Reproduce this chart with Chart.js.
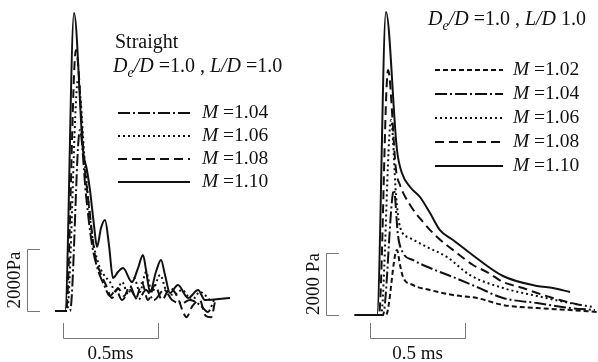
<!DOCTYPE html>
<html>
<head>
<meta charset="utf-8">
<script src="https://cdn.jsdelivr.net/npm/chart.js@4/dist/chart.umd.min.js"></script>
<style>
  body { margin: 0; background: #fff; }
  #wrap { position: relative; width: 598px; height: 362px; }
  canvas { position: absolute; top: 0; }
  #left { left: 0; }
  #right { left: 300px; }
</style>
</head>
<body>
<div id="wrap">
  <canvas id="left" width="300" height="362"></canvas>
  <canvas id="right" width="298" height="362"></canvas>
</div>
<script>
// time in ms, pressure in Pa
var straightMach = ['1.04', '1.06', '1.08', '1.10'];
var flangedMach  = ['1.02', '1.04', '1.06', '1.08', '1.10'];

// left panel: Straight, De/D = 1.0, L/D = 1.0
var straight104 = [[-0.042,0],[0.037,0],[0.089,5839],[0.121,3742],[0.153,2129],[0.184,1323],[0.216,839],[0.247,484],[0.279,677],[0.311,355],[0.353,677],[0.395,355],[0.437,677],[0.479,355],[0.532,677],[0.574,355],[0.626,258],[0.668,355],[0.721,194],[0.763,-32],[0.795,355]];
var straight106 = [[-0.042,0],[0.021,0],[0.079,7452],[0.116,4710],[0.153,2452],[0.184,1581],[0.216,1161],[0.247,935],[0.279,613],[0.311,935],[0.342,548],[0.374,1065],[0.405,613],[0.437,1258],[0.468,613],[0.511,1161],[0.542,677],[0.584,516],[0.626,677],[0.679,355],[0.721,613],[0.774,355]];
var straight108 = [[-0.042,0],[0.016,0],[0.068,8420],[0.111,4871],[0.142,3097],[0.168,1806],[0.195,1258],[0.226,839],[0.258,419],[0.289,742],[0.321,484],[0.353,806],[0.384,419],[0.416,903],[0.447,355],[0.484,839],[0.521,355],[0.563,742],[0.605,419],[0.63,0],[0.65,-200],[0.68,150],[0.72,350],[0.75,-150],[0.78,-200],[0.80,300]];
var straight110 = [[-0.042,0],[0.011,0],[0.058,9613],[0.105,5194],[0.126,4549],[0.142,3903],[0.163,2774],[0.179,2065],[0.2,2677],[0.221,2936],[0.242,2129],[0.263,1065],[0.289,1258],[0.316,1387],[0.363,935],[0.395,1387],[0.421,1806],[0.437,1323],[0.458,613],[0.489,1258],[0.516,1645],[0.537,1161],[0.563,581],[0.605,839],[0.658,419],[0.711,677],[0.747,355],[0.879,419]];

// right panel: De/D = 1.0, L/D 1.0
var flanged102 = [[-0.08,0],[0.084,0],[0.142,2097],[0.158,1613],[0.174,1226],[0.226,968],[0.316,806],[0.437,645],[0.563,548],[0.7,323],[0.879,226],[1.053,161],[1.195,97]];
var flanged104 = [[-0.08,0],[0.068,0],[0.126,4032],[0.147,2581],[0.174,2000],[0.226,1774],[0.316,1516],[0.437,1226],[0.563,903],[0.7,548],[0.879,387],[1.053,226],[1.184,161]];
var flanged106 = [[-0.08,0],[0.058,0],[0.111,6290],[0.137,3871],[0.158,2839],[0.211,2484],[0.3,2194],[0.405,1871],[0.526,1290],[0.7,871],[0.879,613],[1.053,387],[1.174,258]];
var flanged108 = [[-0.08,0],[0.047,0],[0.095,7900],[0.137,4678],[0.158,4194],[0.211,3549],[0.279,3000],[0.353,2516],[0.458,2000],[0.542,1613],[0.616,1387],[0.7,1065],[0.805,871],[0.911,645],[1.0,484],[1.105,323]];
var flanged110 = [[-0.08,0],[0.037,0],[0.084,9775],[0.142,5323],[0.168,4581],[0.211,4129],[0.263,3807],[0.316,3290],[0.368,2742],[0.437,2420],[0.526,2000],[0.7,1258],[0.879,936],[0.963,871],[1.053,742]];

var DASH = {
  '1.02': [5, 3],
  '1.04': [12, 3, 2, 3],
  '1.06': [2, 3],
  '1.08': [9, 5],
  '1.10': []
};
var SERIF = '"Liberation Serif", "DejaVu Serif", serif';

function series(points, mach) {
  return {
    data: points.map(function(p) { return { x: p[0], y: p[1] }; }),
    borderColor: '#111',
    borderWidth: 2,
    borderDash: DASH[mach],
    pointRadius: 0,
    fill: false,
    cubicInterpolationMode: 'monotone'
  };
}

// draws text parts: [text, italic, subscript]
function drawRich(ctx, x, y, parts, size) {
  ctx.textBaseline = 'middle';
  ctx.textAlign = 'left';
  parts.forEach(function(p) {
    var s = p[2] ? size * 0.7 : size;
    ctx.font = (p[1] ? 'italic ' : '') + s + 'px ' + SERIF;
    ctx.fillText(p[0], x, y + (p[2] ? size * 0.3 : 0));
    x += ctx.measureText(p[0]).width;
  });
}

var decorPlugin = {
  id: 'decor',
  afterDraw: function(chart, args, o) {
    var ctx = chart.ctx, xs = chart.scales.x, ys = chart.scales.y;
    ctx.save();
    ctx.fillStyle = '#111';

    // titles
    o.titles.forEach(function(t) { drawRich(ctx, t.x, t.y, t.parts, 20); });

    // legend
    o.legend.forEach(function(m, i) {
      var y = o.legendY + i * o.legendGap;
      ctx.strokeStyle = '#111';
      ctx.lineWidth = 2;
      ctx.setLineDash(DASH[m]);
      ctx.beginPath();
      ctx.moveTo(o.legendX1, y);
      ctx.lineTo(o.legendX2, y);
      ctx.stroke();
      ctx.setLineDash([]);
      drawRich(ctx, o.legendText, y, [['M', true], [' =' + m, false]], 19.5);
    });

    // scale brackets
    ctx.strokeStyle = '#777';
    ctx.lineWidth = 1;
    var y0 = ys.getPixelForValue(0), y1 = ys.getPixelForValue(2000);
    var bx = o.barX;
    ctx.beginPath();
    ctx.moveTo(bx + 13, y1 + 0.5); ctx.lineTo(bx + 0.5, y1 + 0.5);
    ctx.lineTo(bx + 0.5, y0 + 0.5); ctx.lineTo(bx + 13, y0 + 0.5);
    ctx.stroke();
    var x0 = xs.getPixelForValue(0), x1 = xs.getPixelForValue(0.5);
    var by = o.barY;
    ctx.beginPath();
    ctx.moveTo(x0 + 0.5, by - 15); ctx.lineTo(x0 + 0.5, by + 0.5);
    ctx.lineTo(x1 + 0.5, by + 0.5); ctx.lineTo(x1 + 0.5, by - 15);
    ctx.stroke();

    ctx.font = '19px ' + SERIF;
    ctx.textAlign = 'center';
    ctx.textBaseline = 'middle';
    ctx.fillText(o.timeLabel, (x0 + x1) / 2, by + 16);
    ctx.save();
    ctx.translate(bx - 12, (y0 + y1) / 2);
    ctx.rotate(-Math.PI / 2);
    ctx.fillText(o.paLabel, 0, 0);
    ctx.restore();
    ctx.restore();
  }
};

function makeChart(id, sets, xr, yr, decor) {
  return new Chart(document.getElementById(id), {
    type: 'line',
    data: { datasets: sets },
    options: {
      responsive: false,
      animation: false,
      layout: { padding: 0 },
      scales: {
        x: { type: 'linear', display: false, min: xr[0], max: xr[1] },
        y: { type: 'linear', display: false, min: yr[0], max: yr[1] }
      },
      plugins: { legend: { display: false }, tooltip: { enabled: false }, decor: decor }
    },
    plugins: [decorPlugin]
  });
}

makeChart('left', [
  series(straight104, '1.04'),
  series(straight106, '1.06'),
  series(straight108, '1.08'),
  series(straight110, '1.10')
], [-0.3316, 1.2474], [-1645, 10033], {
  titles: [
    { x: 115, y: 43, parts: [['Straight', false]] },
    { x: 113, y: 67, parts: [['D', true], ['e', true, true], ['/D', true], [' =1.0 , ', false], ['L', true], ['/D', true], [' =1.0', false]] }
  ],
  legend: straightMach, legendY: 113, legendGap: 23, legendX1: 118, legendX2: 190, legendText: 202,
  barX: 27, barY: 338, timeLabel: '0.5ms', paLabel: '2000Pa'
});

makeChart('right', [
  series(flanged102, '1.02'),
  series(flanged104, '1.04'),
  series(flanged106, '1.06'),
  series(flanged108, '1.08'),
  series(flanged110, '1.10')
], [-0.3684, 1.2], [-1516, 10162], {
  titles: [
    { x: 128, y: 20, parts: [['D', true], ['e', true, true], ['/D', true], [' =1.0 , ', false], ['L', true], ['/D', true], [' 1.0', false]] }
  ],
  legend: flangedMach, legendY: 70, legendGap: 24, legendX1: 135, legendX2: 203, legendText: 213,
  barX: 26, barY: 338, timeLabel: '0.5 ms', paLabel: '2000 Pa'
});
</script>
</body>
</html>
